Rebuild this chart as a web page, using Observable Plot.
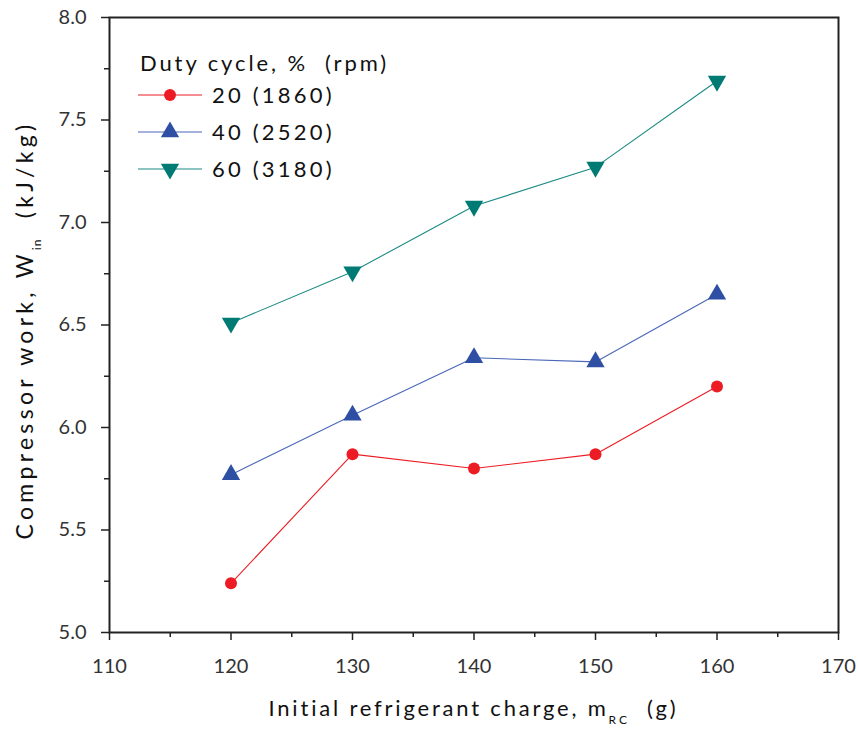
<!DOCTYPE html>
<html>
<head>
<meta charset="utf-8">
<script src="https://cdn.jsdelivr.net/npm/d3@7"></script>
<script src="https://cdn.jsdelivr.net/npm/@observablehq/plot@0.6"></script>
<style>
html,body{margin:0;padding:0;background:#fff;}
#wrap{width:858px;height:729px;}
</style>
</head>
<body>
<div id="wrap"></div>
<script>
const charge = [120, 130, 140, 150, 160];
const work20 = [5.24, 5.87, 5.80, 5.87, 6.20];
const work40 = [5.77, 6.06, 6.34, 6.32, 6.65];
const work60 = [6.51, 6.76, 7.08, 7.27, 7.69];
const seriesNames = ["20 (1860)", "40 (2520)", "60 (3180)"];
const legendTitle = "Duty cycle, %  (rpm)";
const seriesColors = ["#ed1c24", "#2e4fa3", "#007b74"];
const lineColors = ["#ed1c24", "#4a67b8", "#1b8a84"];
const xTicks = [110, 120, 130, 140, 150, 160, 170];
const xMinor = [115, 125, 135, 145, 155, 165];
const yTicks = [5.0, 5.5, 6.0, 6.5, 7.0, 7.5, 8.0];
const yMinor = [5.25, 5.75, 6.25, 6.75, 7.25, 7.75];

const data = [];
[work20, work40, work60].forEach((arr, s) => arr.forEach((v, i) => data.push({x: charge[i], y: v, s})));
const bySeries = s => data.filter(d => d.s === s);

const font = "Lato, sans-serif";
const plot = Plot.plot({
  width: 858, height: 729,
  marginLeft: 109, marginRight: 20, marginTop: 17, marginBottom: 97,
  style: {fontFamily: font, fontSize: "20px", color: "#333", background: "#fff"},
  x: {domain: [110, 170], label: null},
  y: {domain: [5, 8], label: null},
  marks: [
    Plot.axisX({ticks: xTicks, tickSize: 8, tickPadding: 18, tickFormat: d => String(d), fontSize: 20, stroke: "#222", strokeWidth: 1.5}),
    Plot.axisX({ticks: xMinor, tickSize: 5, text: null, stroke: "#222", strokeWidth: 1.5}),
    Plot.axisY({ticks: yTicks, tickSize: 8, tickPadding: 15, tickFormat: d => d.toFixed(1), fontSize: 20, stroke: "#222", strokeWidth: 1.5}),
    Plot.axisY({ticks: yMinor, tickSize: 5, text: null, stroke: "#222", strokeWidth: 1.5}),
    Plot.frame({stroke: "#222", strokeWidth: 2}),
    ...[0, 1, 2].map(s => Plot.line(bySeries(s), {x: "x", y: "y", stroke: lineColors[s], strokeWidth: 1.1})),
    Plot.dot(bySeries(0), {x: "x", y: "y", r: 6, fill: seriesColors[0], symbol: "circle"}),
    Plot.dot(bySeries(1), {x: "x", y: "y", r: 6.8, fill: seriesColors[1], symbol: "triangle"}),
    Plot.dot(bySeries(2), {x: "x", y: "y", r: 6.8, fill: seriesColors[2], symbol: "triangle", rotate: 180})
  ]
});
document.getElementById("wrap").appendChild(plot);

const svg = d3.select(plot);
const xs = plot.scale("x");
const xMid = (xs.apply(110) + xs.apply(170)) / 2;

// x axis title
const xt = svg.append("text").attr("x", xMid).attr("y", 716).attr("text-anchor", "middle")
  .attr("font-family", font).attr("font-size", 22).attr("fill", "#111").attr("letter-spacing", 2.8);
xt.append("tspan").text("Initial refrigerant charge, m");
xt.append("tspan").attr("font-size", 12).attr("dy", 8).attr("letter-spacing", 3).text("RC");
xt.append("tspan").attr("dy", -8).text("  (g)");

// y axis title
const yt = svg.append("text").attr("transform", "translate(33,330) rotate(-90)").attr("text-anchor", "middle")
  .attr("font-family", font).attr("font-size", 23).attr("fill", "#111").attr("letter-spacing", 4.3);
yt.append("tspan").text("Compressor work, W");
yt.append("tspan").attr("font-size", 12).attr("dy", 8).attr("letter-spacing", 1).text("in");
yt.append("tspan").attr("dy", -8).text("  (kJ/kg)");
svg.selectAll("text").attr("xml:space", "preserve");

// legend
const lg = svg.append("g").attr("font-family", font).attr("font-size", 22).attr("fill", "#111")
  .attr("text-anchor", "start").attr("letter-spacing", 2.9);
lg.append("text").attr("x", 140).attr("y", 71).attr("xml:space", "preserve").text(legendTitle);
seriesNames.forEach((name, s) => {
  const cy = 95 + 37 * s;
  lg.append("line").attr("x1", 138).attr("x2", 202).attr("y1", cy).attr("y2", cy)
    .attr("stroke", lineColors[s]).attr("stroke-width", 1.2);
  const sym = s === 0 ? d3.symbol(d3.symbolCircle, Math.PI * 36)() : d3.symbol(d3.symbolTriangle, Math.PI * 6.8 * 6.8)();
  lg.append("path").attr("d", sym).attr("transform", `translate(170,${cy}) rotate(${s === 2 ? 180 : 0})`)
    .attr("fill", seriesColors[s]);
  lg.append("text").attr("x", 212).attr("y", cy + 8).attr("letter-spacing", 3.2).text(name);
});
</script>
</body>
</html>
